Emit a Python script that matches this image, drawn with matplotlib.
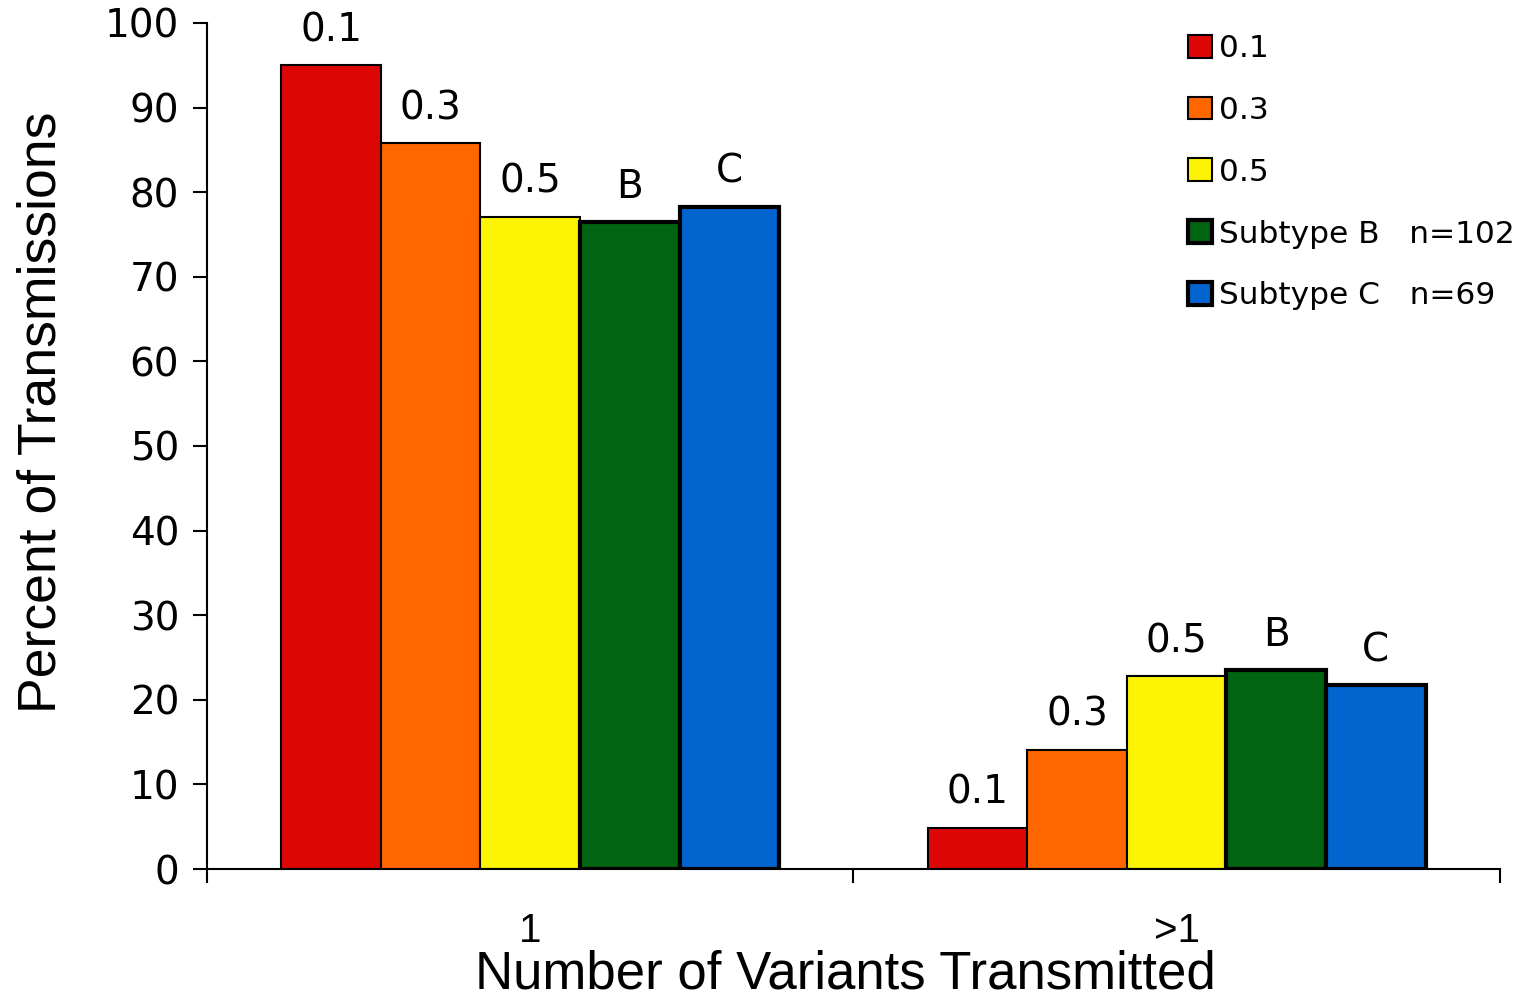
import matplotlib
matplotlib.use('Agg')
import matplotlib.pyplot as plt
import numpy as np

# values
categories = ['1', '>1']
series_names = ['0.1', '0.3', '0.5', 'Subtype B   n=102', 'Subtype C   n=69']
bar_tags = ['0.1', '0.3', '0.5', 'B', 'C']
values = {
    '0.1': [95.0, 4.9],
    '0.3': [85.8, 14.1],
    '0.5': [77.1, 22.8],
    'Subtype B   n=102': [76.5, 23.5],
    'Subtype C   n=69': [78.3, 21.7],
}
colors = ['#DD0806', '#FF6600', '#FCF305', '#006411', '#0265CF']
edge_w = [1.5, 1.5, 1.5, 3.0, 3.0]

plt.rcParams['font.family'] = ['DejaVu Sans']
lab_font = ['Liberation Sans', 'DejaVu Sans']

fig = plt.figure(figsize=(15.22, 9.96), dpi=100)
ax = fig.add_axes([0.136, 0.1275, 0.8495, 0.8495])

x = np.arange(len(categories))
w = 0.154
for i, name in enumerate(series_names):
    pos = x + (i - 2) * w
    bars = ax.bar(pos, values[name], width=w, color=colors[i], edgecolor='black',
                  linewidth=edge_w[i], label=name)
    for b, v in zip(bars, values[name]):
        ax.annotate(bar_tags[i], (b.get_x() + b.get_width() / 2, v),
                    xytext=(0, 25), textcoords='offset points',
                    ha='center', va='center', fontsize=28)

ax.set_xlim(-0.5, 1.5)
ax.set_ylim(0, 100)
ax.set_yticks(np.arange(0, 101, 10))
ax.tick_params(axis='y', labelsize=28, length=10, width=1.5, pad=10)
ax.set_xticks(x)
ax.set_xticklabels(categories, family=lab_font, fontsize=29)
ax.set_xticks([-0.5, 0.5, 1.5], minor=True)
ax.tick_params(axis='x', which='major', length=0, pad=31)
ax.tick_params(axis='x', which='minor', length=10, width=1.5)

for s in ['top', 'right']:
    ax.spines[s].set_visible(False)
for s in ['left', 'bottom']:
    ax.spines[s].set_linewidth(1.5)

ax.set_ylabel('Percent of Transmissions', fontsize=38.5, family=lab_font)
ax.set_xlabel('Number of Variants Transmitted', fontsize=38, family=lab_font)
ax.yaxis.set_label_coords(-0.109, 0.54)
ax.xaxis.set_label_coords(0.494, -0.095)

leg = ax.legend(loc='upper right', bbox_to_anchor=(1.0335, 1.02), frameon=False,
                fontsize=22.5, handlelength=0.75, handleheight=0.75,
                handletextpad=0.25, labelspacing=1.05)

fig.savefig('out.png', dpi=100)
